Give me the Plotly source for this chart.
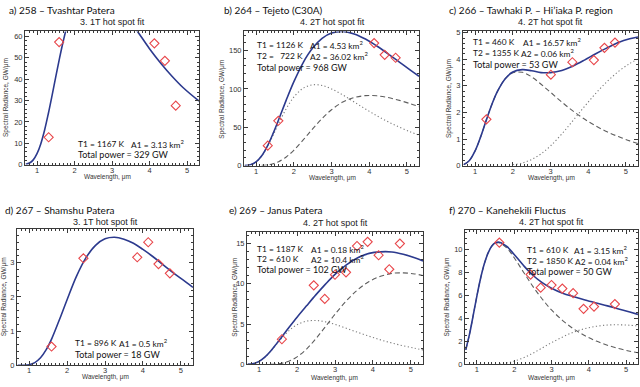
import plotly.graph_objects as go

# ---------------- data ----------------
# common wavelength grid (micron) used for the fitted curves
grid = [0.7, 0.85, 1.0, 1.15, 1.3, 1.45, 1.6, 1.8, 2.0, 2.25, 2.5, 2.75, 3.0,
        3.3, 3.6, 3.9, 4.2, 4.5, 4.8, 5.1, 5.32]

# a) 258 - Tvashtar Patera (1T fit)
a_wl = [0.7, 0.8, 0.9, 1.0, 1.1, 1.2, 1.3, 1.4, 1.5, 1.6, 1.7, 1.8, 2.0, 2.2,
        2.5, 2.8, 3.1, 3.4, 3.7, 4.0, 4.3, 4.6, 4.9, 5.32]
a_fit = [0.15, 0.72, 2.2, 5.1, 9.7, 16.0, 23.7, 32.2, 41.1, 49.8, 57.8, 64.9,
         76.2, 83.0, 86.1, 83.3, 77.0, 69.4, 61.9, 54.3, 47.5, 41.4, 36.0, 29.75]
a_obs_wl = [1.31, 1.59, 4.13, 4.41, 4.70]
a_obs = [12.8, 57.4, 56.8, 48.6, 27.6]

# b) 264 - Tejeto (C30A) (2T fit)
b_fit = [0.12, 1.14, 4.82, 12.8, 25.4, 41.7, 60.0, 85.4, 109.1, 134.4, 153.2,
         165.9, 172.8, 174.9, 171.7, 165.0, 156.0, 145.8, 135.0, 124.2, 116.5]
b_hot = [0.12, 1.13, 4.79, 12.6, 24.6, 39.4, 55.0, 74.2, 89.2, 100.9, 105.3,
         104.5, 100.0, 92.1, 83.0, 73.8, 65.0, 57.1, 50.0, 43.7, 39.6]
b_cool_wl = [1.15, 1.3, 1.45, 1.6, 1.8, 2.0, 2.25, 2.5, 2.75, 3.0, 3.3, 3.6,
             3.9, 4.2, 4.5, 4.8, 5.1, 5.32]
b_cool = [0.2, 0.8, 2.27, 5.04, 11.2, 19.9, 33.5, 47.9, 61.4, 72.8, 82.8, 88.7,
          91.2, 91.0, 88.7, 85.0, 80.5, 76.9]
b_obs_wl = [1.31, 1.59, 4.13, 4.41, 4.70]
b_obs = [26.0, 58.4, 159.8, 144.4, 140.6]

# c) 266 - Tawhaki P. - Hi'iaka P. region (2T fit)
c_fit = [0.035, 0.19, 0.55, 1.09, 1.72, 2.32, 2.81, 3.27, 3.52, 3.61, 3.57,
         3.50, 3.50, 3.58, 3.75, 3.97, 4.21, 4.43, 4.63, 4.77, 4.84]
c_hot = [0.035, 0.19, 0.55, 1.09, 1.72, 2.32, 2.81, 3.27, 3.49, 3.51, 3.34,
         3.06, 2.76, 2.39, 2.05, 1.75, 1.49, 1.27, 1.09, 0.93, 0.83]
c_cool_wl = [2.0, 2.25, 2.5, 2.75, 3.0, 3.3, 3.6, 3.9, 4.2, 4.5, 4.8, 5.1, 5.32]
c_cool = [0.03, 0.097, 0.23, 0.44, 0.74, 1.19, 1.70, 2.22, 2.72, 3.16, 3.54,
          3.84, 4.01]
c_obs_wl = [1.30, 3.01, 3.58, 4.15, 4.43, 4.71]
c_obs = [1.74, 3.42, 3.89, 3.97, 4.43, 4.63]

# d) 267 - Shamshu Patera (1T fit)
d_wl = [0.7, 0.85, 1.0, 1.15, 1.3, 1.45, 1.6, 1.8, 2.0, 2.25, 2.5, 2.75, 3.0,
        3.25, 3.5, 3.75, 4.0, 4.25, 4.5, 4.75, 5.0, 5.32]
d_fit = [0.0, 0.003, 0.02, 0.081, 0.22, 0.458, 0.79, 1.34, 1.92, 2.61, 3.15,
         3.51, 3.70, 3.745, 3.69, 3.57, 3.39, 3.19, 2.97, 2.75, 2.54, 2.28]
d_obs_wl = [1.59, 2.43, 3.85, 4.14, 4.41, 4.71]
d_obs = [0.55, 3.13, 3.16, 3.60, 2.96, 2.69]

# e) 269 - Janus Patera (2T fit)
e_fit = [0.012, 0.097, 0.37, 0.89, 1.63, 2.51, 3.44, 4.66, 5.85, 7.26, 8.65,
         9.96, 11.17, 12.35, 13.23, 13.77, 13.96, 13.94, 13.65, 13.22, 12.83]
e_hot = [0.012, 0.097, 0.366, 0.885, 1.62, 2.46, 3.29, 4.24, 4.92, 5.36, 5.44,
         5.27, 4.96, 4.47, 3.97, 3.49, 3.04, 2.65, 2.30, 2.00, 1.80]
e_cool_wl = [1.3, 1.45, 1.6, 1.8, 2.0, 2.25, 2.5, 2.75, 3.0, 3.3, 3.6, 3.9,
             4.2, 4.5, 4.8, 5.1, 5.32]
e_cool = [0.014, 0.053, 0.148, 0.42, 0.925, 1.90, 3.21, 4.69, 6.21, 7.88, 9.26,
          10.28, 10.92, 11.29, 11.35, 11.22, 11.03]
e_obs_wl = [1.60, 2.44, 2.73, 3.00, 3.29, 3.58, 3.86, 4.15, 4.43, 4.71]
e_obs = [3.12, 9.80, 8.12, 11.12, 11.42, 14.68, 15.20, 13.54, 11.80, 14.98]

# f) 270 - Kanehekili Fluctus (2T fit)
f_wl = [0.7, 0.8, 0.9, 1.0, 1.1, 1.2, 1.3, 1.4, 1.5, 1.6, 1.8, 2.0, 2.25, 2.5,
        2.75, 3.0, 3.3, 3.6, 3.9, 4.2, 4.5, 4.8, 5.1, 5.32]
f_fit = [1.27, 2.61, 4.27, 5.98, 7.53, 8.79, 9.72, 10.33, 10.60, 10.65, 10.28,
         9.58, 8.62, 7.77, 7.13, 6.64, 6.21, 5.90, 5.61, 5.35, 5.10, 4.83, 4.56,
         4.36]
f_hot = [1.27, 2.61, 4.27, 5.98, 7.53, 8.79, 9.72, 10.32, 10.58, 10.60, 10.15,
         9.30, 8.04, 6.80, 5.70, 4.75, 3.82, 3.08, 2.49, 2.03, 1.67, 1.38, 1.15,
         1.01]
f_cool_wl = [1.6, 1.8, 2.0, 2.25, 2.5, 2.75, 3.0, 3.3, 3.6, 3.9, 4.2, 4.5, 4.8,
             5.1, 5.32]
f_cool = [0.045, 0.128, 0.281, 0.578, 0.974, 1.43, 1.89, 2.39, 2.82, 3.12, 3.32,
          3.43, 3.45, 3.41, 3.35]
f_obs_wl = [1.60, 2.44, 2.71, 3.00, 3.29, 3.58, 3.86, 4.14, 4.70]
f_obs = [10.62, 7.83, 6.69, 6.92, 6.61, 6.21, 4.84, 5.04, 5.26]

titles = ["a) 258 \u2013 Tvashtar Patera", "b) 264 \u2013 Tejeto (C30A)",
          "c) 266 \u2013 Tawhaki P. \u2013 Hi\u2019iaka P. region",
          "d) 267 \u2013 Shamshu Patera", "e) 269 \u2013 Janus Patera",
          "f) 270 \u2013 Kanehekili Fluctus"]
subtitles = ["3. 1T hot spot fit", "4. 2T hot spot fit", "4. 2T hot spot fit",
             "3. 1T hot spot fit", "4. 2T hot spot fit", "4. 2T hot spot fit"]

# ---------------- styling / layout ----------------
W, H = 640, 387
BLUE = "#2c3a8e"
RED = "#e8474b"
DASH_GRAY = "#5e5e5e"
DOT_GRAY = "#7a7a7a"
AXC = "#3a3a3a"
TITLE_FONT = dict(family="Lato", size=10, color="#111")
SUB_FONT = dict(family="Liberation Sans", size=9, color="#222")
NOTE_FONT = dict(family="Lato", size=8.4, color="#111")
TOTAL_FONT = dict(family="Lato", size=9, color="#111")
AXT_FONT = dict(family="Liberation Sans", size=6.5, color="#333")
TICK_FONT = dict(family="Liberation Sans", size=7.5, color="#333")
DASH = "5px,3px"
DOT = "1.2px,2.4px"

# plot boxes in pixels: (left, right, top, bottom)
boxes = [(25, 199, 29, 165), (244, 419, 29, 166), (463, 638, 29, 166),
         (17, 193, 231, 370), (247, 423, 234, 369), (465, 638, 232, 369)]
yranges = [[0, 62.4], [0, 175], [0, 5.05], [0, 3.98], [0, 16.4], [0, 11.7]]
ydticks = [10, 50, 1, 1, 5, 2]
yminor = [2, 10, 0.2, 0.2, 1, 0.5]

def fx(p):
    return p / W

def fy(p):
    return 1 - p / H

fig = go.Figure()

panels = [
    dict(fit=(a_wl, a_fit), hot=None, cool=None, obs=(a_obs_wl, a_obs)),
    dict(fit=(grid, b_fit), hot=(grid, b_hot), cool=(b_cool_wl, b_cool),
         obs=(b_obs_wl, b_obs), hot_dash=DOT, cool_dash=DASH),
    dict(fit=(grid, c_fit), hot=(grid, c_hot), cool=(c_cool_wl, c_cool),
         obs=(c_obs_wl, c_obs), hot_dash=DASH, cool_dash=DOT),
    dict(fit=(d_wl, d_fit), hot=None, cool=None, obs=(d_obs_wl, d_obs)),
    dict(fit=(grid, e_fit), hot=(grid, e_hot), cool=(e_cool_wl, e_cool),
         obs=(e_obs_wl, e_obs), hot_dash=DOT, cool_dash=DASH),
    dict(fit=(f_wl, f_fit), hot=(f_wl, f_hot), cool=(f_cool_wl, f_cool),
         obs=(f_obs_wl, f_obs), hot_dash=DASH, cool_dash=DOT),
]

layout_axes = {}
for i, p in enumerate(panels):
    n = i + 1
    xs = "x" if n == 1 else f"x{n}"
    ys = "y" if n == 1 else f"y{n}"
    for comp, dkey in (("hot", "hot_dash"), ("cool", "cool_dash")):
        if p[comp] is not None:
            col = DOT_GRAY if p[dkey] == DOT else DASH_GRAY
            fig.add_trace(go.Scatter(x=p[comp][0], y=p[comp][1], mode="lines",
                                     line=dict(color=col, width=1.1, dash=p[dkey],
                                               shape="spline"),
                                     xaxis=xs, yaxis=ys, showlegend=False))
    fig.add_trace(go.Scatter(x=p["fit"][0], y=p["fit"][1], mode="lines",
                             line=dict(color=BLUE, width=1.6, shape="spline"),
                             xaxis=xs, yaxis=ys, showlegend=False))
    fig.add_trace(go.Scatter(x=p["obs"][0], y=p["obs"][1], mode="markers",
                             marker=dict(symbol="diamond-open", size=7, color=RED,
                                         line=dict(width=1.1, color=RED)),
                             xaxis=xs, yaxis=ys, showlegend=False))
    l, r, t, b = boxes[i]
    axcommon = dict(showline=True, linecolor=AXC, linewidth=1, mirror="allticks",
                    ticks="inside", ticklen=4, tickwidth=1, tickcolor=AXC,
                    showgrid=False, zeroline=False, tickfont=TICK_FONT)
    layout_axes["xaxis" if n == 1 else f"xaxis{n}"] = dict(
        domain=[fx(l), fx(r)], range=[0.68, 5.32], anchor=ys,
        tickmode="linear", tick0=0, dtick=1, ticklabelstandoff=-2,
        minor=dict(tickmode="linear", tick0=0, dtick=0.1, ticks="inside",
                   ticklen=2, tickcolor=AXC, showgrid=False),
        **axcommon)
    layout_axes["yaxis" if n == 1 else f"yaxis{n}"] = dict(
        domain=[fy(b), fy(t)], range=yranges[i], anchor=xs,
        tickmode="linear", tick0=0, dtick=ydticks[i],
        minor=dict(tickmode="linear", tick0=0, dtick=yminor[i], ticks="inside",
                   ticklen=2, tickcolor=AXC, showgrid=False),
        **axcommon)

ann = []
def text(x, y, s, font, xanchor="left", angle=0):
    ann.append(dict(x=fx(x), y=fy(y), xref="paper", yref="paper", text=s,
                    showarrow=False, xanchor=xanchor, yanchor="middle",
                    font=font, textangle=angle))

# panel titles, subtitles, axis titles
title_pos = [(7, 7), (221.7, 7), (446.7, 7), (2.7, 211), (226.7, 211), (446.7, 211)]
sub_pos = [(112, 19.5), (332, 19.5), (550.5, 19.5), (105, 224), (335, 224.5), (551, 224)]
ytitle_pos = [(6, 97), (221.7, 98), (449, 98), (3.5, 300), (235, 301), (446.7, 300)]
xtitle_pos = [(107, 178), (332.5, 178.5), (551, 178.5), (105, 382), (334.5, 383), (551, 382.5)]
for i in range(6):
    text(*title_pos[i], titles[i], TITLE_FONT)
    text(*sub_pos[i], subtitles[i], SUB_FONT, xanchor="center")
    text(*ytitle_pos[i], "Spectral Radiance, GW/\u03bcm", AXT_FONT, xanchor="center", angle=-90)
    text(*xtitle_pos[i], "Wavelength, \u03bcm", AXT_FONT, xanchor="center")

NB = "\u00a0"
notes = [
    # (x, y, text)
    (76, 143.5, "T1 = 1167 K"), (129, 143.5, "A1 = 3.13 km<sup>2</sup>"),
    (255, 42.5, "T1 = 1126 K"), (307.5, 42.5, "A1 = 4.53 km<sup>2</sup>"),
    (255, 54, "T2 =" + NB * 3 + "722 K"), (307.5, 54, "A2 = 36.02 km<sup>2</sup>"),
    (470.5, 39.5, "T1 = 460 K"), (520.5, 39.5, "A1 = 16.57 km<sup>2</sup>"),
    (470.5, 51.5, "T2 = 1355 K"), (518.5, 51.5, "A2 = 0.06 km<sup>2</sup>"),
    (72.5, 347.5, "T1 = 896 K"), (117, 347.5, "A1 = 0.5 km<sup>2</sup>"),
    (254.5, 251, "T1 = 1187 K"), (309, 251, "A1 = 0.18 km<sup>2</sup>"),
    (254.5, 261.5, "T2 = 610 K"), (309, 261.5, "A2 = 10.4 km<sup>2</sup>"),
    (525, 252.5, "T1 = 610 K"), (571.5, 252.5, "A1 = 3.15 km<sup>2</sup>"),
    (525, 263.5, "T2 = 1850 K"), (572.5, 263.5, "A2 = 0.04 km<sup>2</sup>"),
]
totals = [
    (76, 154.5, "Total power = 329 GW"),
    (255, 65.5, "Total power = 968 GW"),
    (470.5, 62.5, "Total power = 53 GW"),
    (72.5, 358.5, "Total power = 18 GW"),
    (254.5, 272.5, "Total power = 102 GW"),
    (525, 274.5, "Total power = 50 GW"),
]
for x, y, s in notes:
    text(x, y, s, NOTE_FONT)
for x, y, s in totals:
    text(x, y, s, TOTAL_FONT)

fig.update_layout(width=W, height=H, margin=dict(l=0, r=0, t=0, b=0),
                  paper_bgcolor="white", plot_bgcolor="white",
                  showlegend=False, annotations=ann, **layout_axes)

fig.write_html("out.html", config={"displayModeBar": False},
               post_script="document.body.style.margin='0';"
                           "document.body.style.overflow='hidden';")
